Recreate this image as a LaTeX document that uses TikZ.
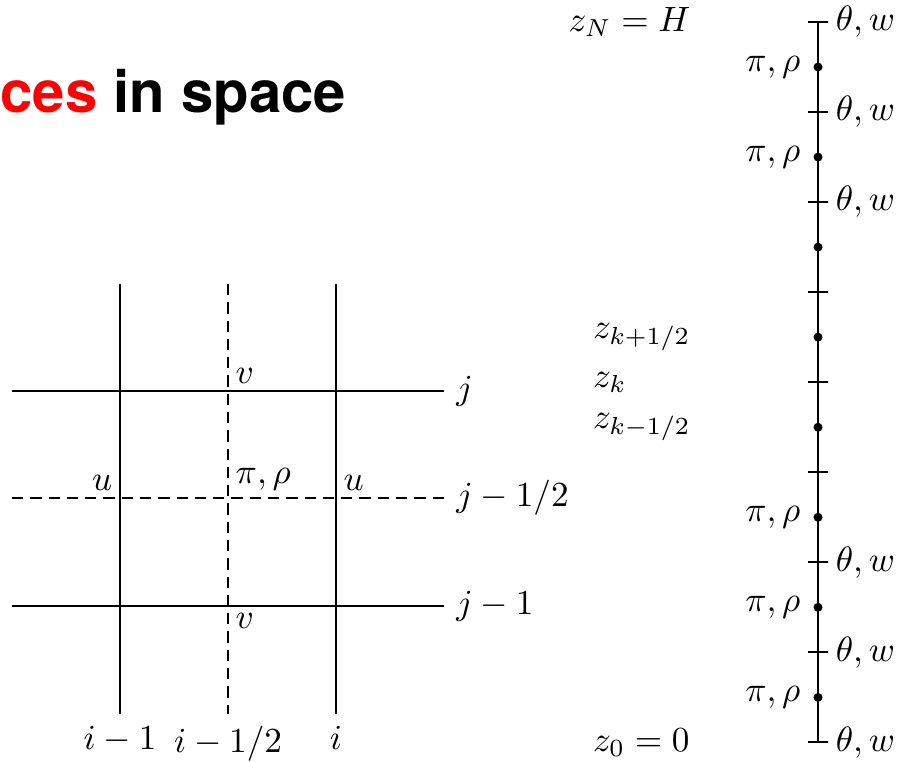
\documentclass[tikz,border=0pt]{standalone}
\usepackage{fontspec}
\usepackage{xcolor}
\usepackage{tikz}
\usetikzlibrary{positioning,calc}
\newfontfamily\headfont{TeX Gyre Heros}

\begin{document}
\begin{tikzpicture}[
    x=0.01cm, y=-0.01cm,
    gridline/.style={thin},
    halfline/.style={thin, dash pattern=on 3.2pt off 2pt},
    lab/.style={inner sep=2pt},
    tick/.style={draw, semithick, minimum width=0.2cm, minimum height=0pt, inner sep=0pt, outer sep=0pt},
    tw/.style={label={[inner sep=2pt]right:{$\theta,w$}}},
    dot/.style={circle, fill, inner sep=0pt, minimum size=0.09cm},
    pr/.style={label={left:{$\pi,\rho$}}},
]
\useasboundingbox (0,0) rectangle (898,761);

\node[anchor=base west, inner sep=0pt, font=\headfont\bfseries\fontsize{16.5}{20}\selectfont] (title) at (0,113) {\textcolor{red}{ces} in space};

% staggered grid
\coordinate (im1top) at (120,284); \coordinate (im1bot) at (120,714);
\coordinate (ihtop) at (228,284);  \coordinate (ihbot) at (228,714);
\coordinate (itop) at (336,284);   \coordinate (ibot) at (336,714);
\coordinate (jl) at (12,391);   \coordinate (jr) at (444,391);
\coordinate (jhl) at (12,498);  \coordinate (jhr) at (444,498);
\coordinate (jm1l) at (12,606); \coordinate (jm1r) at (444,606);

\draw[gridline] (im1top) -- (im1bot);
\draw[gridline] (itop) -- (ibot);
\draw[halfline] (ihtop) -- (ihbot);
\draw[gridline] (jl) -- (jr);
\draw[halfline] (jhl) -- (jhr);
\draw[gridline] (jm1l) -- (jm1r);

\node[lab, anchor=south west] (vtop) at (ihtop |- jl) {$v$};
\node[lab, anchor=north west] (vbot) at (ihtop |- jm1l) {$v$};
\node[lab, anchor=south west] (prc) at (ihtop |- jhl) {$\pi,\rho$};
\node[lab, anchor=south east] (uleft) at (im1top |- jhl) {$u$};
\node[lab, anchor=south west] (uright) at (itop |- jhl) {$u$};

\node[right] (jlab) at (jr) {$j$};
\node[right] (jhlab) at (jhr) {$j-1/2$};
\node[right] (jm1lab) at (jm1r) {$j-1$};
\node[below] (im1lab) at (im1bot) {$i-1$};
\node[below] (ihlab) at (ihbot) {$i-1/2$};
\node[below] (ilab) at (ibot) {$i$};

% vertical levels
\node[tick, tw] (t0) at (818,22) {};
\node[tick, tw, below=0.9cm of t0] (t1) {};
\node[tick, tw, below=0.9cm of t1] (t2) {};
\node[tick, below=0.9cm of t2] (t3) {};
\node[tick, below=0.9cm of t3] (t4) {};
\node[tick, below=0.9cm of t4] (t5) {};
\node[tick, tw, below=0.9cm of t5] (t6) {};
\node[tick, tw, below=0.9cm of t6] (t7) {};
\node[tick, tw, below=0.9cm of t7] (t8) {};
\draw[semithick] (t0) -- (t8);

\node[dot, pr] (d0) at ($(t0)!0.5!(t1)$) {};
\node[dot, pr] (d1) at ($(t1)!0.5!(t2)$) {};
\node[dot] (d2) at ($(t2)!0.5!(t3)$) {};
\node[dot] (d3) at ($(t3)!0.5!(t4)$) {};
\node[dot] (d4) at ($(t4)!0.5!(t5)$) {};
\node[dot, pr] (d5) at ($(t5)!0.5!(t6)$) {};
\node[dot, pr] (d6) at ($(t6)!0.5!(t7)$) {};
\node[dot, pr] (d7) at ($(t7)!0.5!(t8)$) {};

\node[left=1.05cm of t0] (zN) {$z_N=H$};
\node[left=1.1cm of d3] (zkp) {$z_{k+1/2}$};
\node[anchor=west] (zk) at (zkp.west |- t4) {$z_k$};
\node[anchor=west] (zkm) at (zkp.west |- d4) {$z_{k-1/2}$};
\node[anchor=west] (z0) at (zkp.west |- t8) {$z_0=0$};
\end{tikzpicture}
\end{document}
